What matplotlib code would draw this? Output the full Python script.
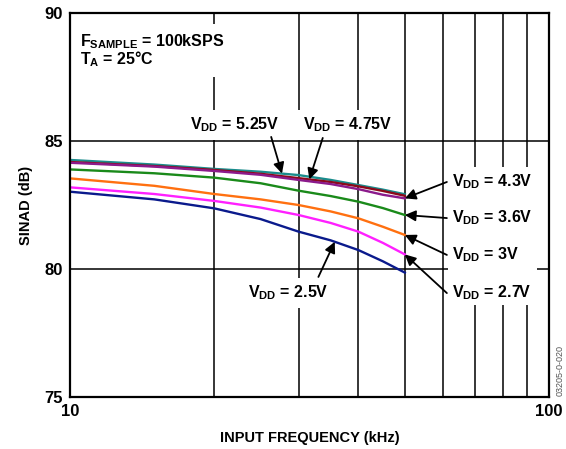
import numpy as np
import matplotlib
matplotlib.use("Agg")
import matplotlib.pyplot as plt
from matplotlib.patches import Rectangle

plt.rcParams['font.family'] = ['Liberation Sans', 'DejaVu Sans']
plt.rcParams['font.weight'] = 'bold'
plt.rcParams['mathtext.fontset'] = 'custom'
plt.rcParams['mathtext.rm'] = 'Liberation Sans:bold'
plt.rcParams['mathtext.it'] = 'Liberation Sans:bold'
plt.rcParams['mathtext.bf'] = 'Liberation Sans:bold'

# input frequency (kHz)
freq = [10, 15, 20, 25, 30, 35, 40, 45, 50]

# SINAD (dB) per supply voltage
sinad_525 = [84.26, 84.08, 83.91, 83.80, 83.67, 83.48, 83.28, 83.10, 82.92]
sinad_475 = [84.18, 84.02, 83.87, 83.72, 83.55, 83.40, 83.23, 83.05, 82.86]
sinad_43 = [84.15, 84.00, 83.83, 83.68, 83.48, 83.32, 83.12, 82.90, 82.76]
sinad_36 = [83.89, 83.74, 83.57, 83.35, 83.06, 82.85, 82.63, 82.38, 82.11]
sinad_30 = [83.54, 83.25, 82.93, 82.72, 82.50, 82.25, 81.98, 81.65, 81.33]
sinad_27 = [83.19, 82.93, 82.66, 82.40, 82.11, 81.80, 81.46, 81.02, 80.57]
sinad_25 = [83.02, 82.72, 82.37, 81.95, 81.46, 81.12, 80.74, 80.30, 79.86]

vdd_labels = ["5.25V", "4.75V", "4.3V", "3.6V", "3V", "2.7V", "2.5V"]

series = [sinad_525, sinad_475, sinad_43, sinad_36, sinad_30, sinad_27, sinad_25]
colors = ["#1a8c8c", "#8b0a1a", "#8b1a8b", "#1a8a1a", "#ff7010", "#ff20ff", "#0a1a8c"]

fig = plt.figure(figsize=(5.66, 4.49), dpi=100)
ax = fig.add_axes([0.1237, 0.1158, 0.8463, 0.8552])

ax.set_xscale('log')
ax.set_xlim(10, 100)
ax.set_ylim(75, 90)

# grid drawn by hand so that label boxes can cover it
for f in range(20, 100, 10):
    ax.axvline(f, color='black', lw=1.1, zorder=0.5)
for v in [80, 85]:
    ax.axhline(v, color='black', lw=1.1, zorder=0.5)

# white area behind the right-hand labels
ax.add_patch(Rectangle((61.5, 78.6), 94.4 - 61.5, 83.98 - 78.6, facecolor='white',
                       edgecolor='none', zorder=1))

for s, c in zip(series, colors):
    ax.plot(freq, s, color=c, lw=1.7, zorder=2)

fs = 11.5
box = dict(facecolor='white', edgecolor='none', pad=4)
arrow = dict(arrowstyle='-|>', color='black', lw=1.3, mutation_scale=16, shrinkA=0, shrinkB=0)

def tip(f, s):
    return (f, float(np.interp(np.log10(f), np.log10(freq), s)))

def label(v):
    return "V$_{DD}$ = " + v

ax.annotate("", xy=tip(27.7, sinad_525), xytext=(26.3, 85.16), arrowprops=arrow, zorder=4)
ax.text(22.1, 85.62, label(vdd_labels[0]), ha='center', va='center', fontsize=fs, bbox=box, zorder=3)

ax.annotate("", xy=tip(31.6, sinad_475), xytext=(33.7, 85.12), arrowprops=arrow, zorder=4)
ax.text(38.0, 85.62, label(vdd_labels[1]), ha='center', va='center', fontsize=fs, bbox=box, zorder=3)

right = [(sinad_43, 83.40), (sinad_36, 81.99), (sinad_30, 80.55), (sinad_27, 79.06)]
for (s, ty), v in zip(right, vdd_labels[2:6]):
    ax.annotate("", xy=tip(50, s), xytext=(61.2, ty), arrowprops=arrow, zorder=4)
    ax.text(62.7, ty, label(v), ha='left', va='center', fontsize=fs, zorder=3)

ax.annotate("", xy=tip(35.7, sinad_25), xytext=(33.0, 79.69), arrowprops=arrow, zorder=4)
ax.text(28.6, 79.08, label(vdd_labels[6]), ha='center', va='center', fontsize=fs, bbox=box, zorder=3)

ax.text(0.02, 0.95, "F$_{SAMPLE}$ = 100kSPS\nT$_A$ = 25°C", transform=ax.transAxes,
        ha='left', va='top', fontsize=fs, linespacing=0.9,
        bbox=dict(facecolor='white', edgecolor='none', pad=6), zorder=3)

ax.set_xticks([10, 100])
ax.set_xticklabels(["10", "100"])
ax.set_xticks([], minor=True)
ax.set_yticks([75, 80, 85, 90])
ax.tick_params(length=0, labelsize=12, pad=5)
for lab in ax.get_xticklabels() + ax.get_yticklabels():
    lab.set_fontweight('bold')

ax.set_xlabel("INPUT FREQUENCY (kHz)", fontsize=10.5, fontweight='bold', labelpad=9)
ax.set_ylabel("SINAD (dB)", fontsize=10.5, fontweight='bold', labelpad=8)

for sp in ax.spines.values():
    sp.set_linewidth(1.6)
    sp.set_zorder(5)

fig.text(0.99, 0.175, "03205-0-020", rotation=90, fontsize=6.5, color='#555555',
         fontweight='normal', ha='center', va='center', transform=fig.transFigure)

fig.savefig("out.png", dpi=100)
